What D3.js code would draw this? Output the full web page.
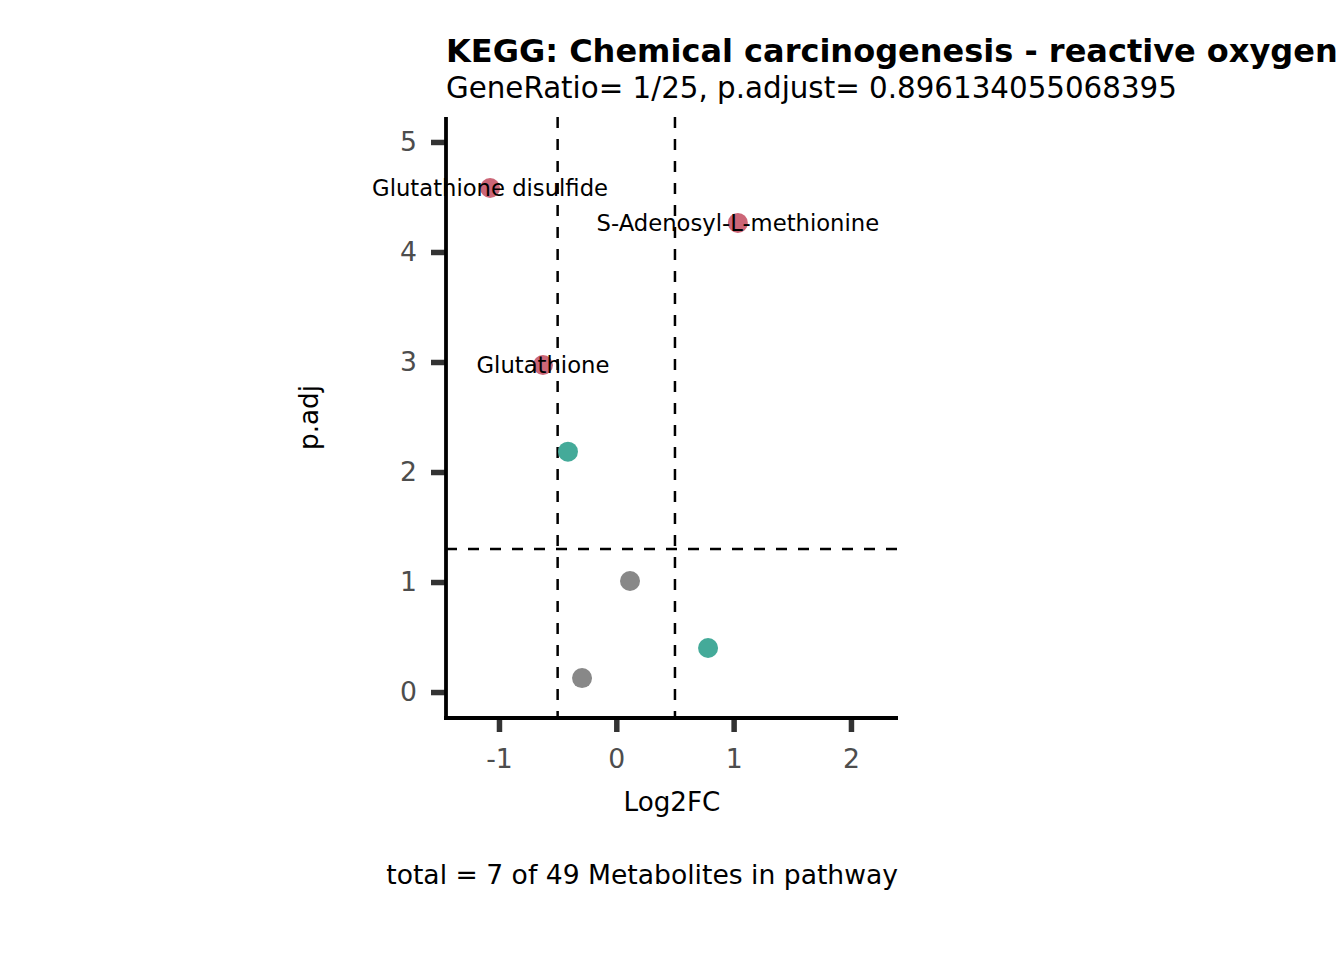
<!DOCTYPE html>
<html><head><meta charset="utf-8">
<script src="https://cdn.jsdelivr.net/npm/d3@7"></script>
<style>
html,body{margin:0;padding:0;background:#fff;}
svg{display:block;font-family:"DejaVu Sans",sans-serif;}
</style></head>
<body>
<svg id="chart" width="1344" height="960"></svg>
<script>
// ---- data ----
const metabolites = ["Glutathione disulfide","S-Adenosyl-L-methionine","Glutathione","","","",""];
const log2fc = [-1.076, 1.036, -0.625, -0.412, 0.117, 0.782, -0.292];
const padj = [4.582, 4.264, 2.973, 2.185, 1.009, 0.400, 0.127];
const groups = ["both","both","both","one","none","one","none"];
const groupColors = {both:"#CC6677", one:"#44AA99", none:"#888888"};
const xTicks = [-1, 0, 1, 2];
const yTicks = [0, 1, 2, 3, 4, 5];
const pThreshold = 1.301;
const fcThresholds = [-0.5, 0.5];
const titleText = "KEGG: Chemical carcinogenesis - reactive oxygen";
const subtitleText = "GeneRatio= 1/25, p.adjust= 0.896134055068395";
const captionText = "total = 7 of 49 Metabolites in pathway";
const xLabel = "Log2FC", yLabel = "p.adj";

// ---- layout ----
const panel = {left: 446, right: 898, top: 117, bottom: 718};
const svg = d3.select("#chart");
const x = d3.scaleLinear().domain([-1.4515, 2.401]).range([panel.left, panel.right]);
const y = d3.scaleLinear().domain([-0.236, 5.227]).range([panel.bottom, panel.top]);

// reference lines
const g = svg.append("g");
g.selectAll("line.v").data(fcThresholds).join("line")
  .attr("x1", d => x(d)).attr("x2", d => x(d))
  .attr("y1", panel.top).attr("y2", panel.bottom)
  .attr("stroke", "#000").attr("stroke-width", 2.5).attr("stroke-dasharray", "11,11");
g.append("line")
  .attr("x1", panel.left).attr("x2", panel.right)
  .attr("y1", y(pThreshold)).attr("y2", y(pThreshold))
  .attr("stroke", "#000").attr("stroke-width", 2.5).attr("stroke-dasharray", "11,11");

// points
const data = log2fc.map((v, i) => ({fc: v, p: padj[i], name: metabolites[i], grp: groups[i]}));
g.selectAll("circle").data(data).join("circle")
  .attr("cx", d => x(d.fc)).attr("cy", d => y(d.p)).attr("r", 10)
  .attr("fill", d => groupColors[d.grp]);

// labels
g.selectAll("text.lab").data(data.filter(d => d.name)).join("text")
  .attr("class", "lab")
  .attr("x", d => x(d.fc)).attr("y", d => y(d.p)).attr("dy", "0.35em")
  .attr("text-anchor", "middle").attr("font-size", 22.7).attr("fill", "#000")
  .text(d => d.name);

// axes
const xAxis = d3.axisBottom(x).tickValues(xTicks).tickSize(14).tickPadding(17).tickFormat(d3.format("d"));
const yAxis = d3.axisLeft(y).tickValues(yTicks).tickSize(15).tickPadding(14).tickFormat(d3.format("d"));
const gx = svg.append("g").attr("transform", `translate(0,${panel.bottom})`).call(xAxis);
const gy = svg.append("g").attr("transform", `translate(${panel.left},0)`).call(yAxis);
[gx, gy].forEach(a => {
  a.select(".domain").remove();
  a.selectAll(".tick line").attr("stroke", "#333333").attr("stroke-width", 5.5);
  a.selectAll(".tick text").attr("fill", "#4D4D4D").attr("font-size", 26.67)
    .attr("font-family", "DejaVu Sans");
});
gx.selectAll(".tick text").text(d => d < 0 ? "-" + Math.abs(d) : d);
// axis lines
svg.append("line").attr("x1", panel.left).attr("x2", panel.left)
  .attr("y1", panel.top).attr("y2", panel.bottom + 2).attr("stroke", "#000").attr("stroke-width", 3.8);
svg.append("line").attr("x1", panel.left - 2).attr("x2", panel.right)
  .attr("y1", panel.bottom).attr("y2", panel.bottom).attr("stroke", "#000").attr("stroke-width", 3.8);

// titles
svg.append("text").attr("x", 446).attr("y", 62).attr("font-size", 32).attr("font-weight", "bold")
  .attr("fill", "#000").text(titleText);
svg.append("text").attr("x", 446).attr("y", 98).attr("font-size", 29.33)
  .attr("fill", "#000").text(subtitleText);
svg.append("text").attr("x", (panel.left + panel.right) / 2).attr("y", 811)
  .attr("text-anchor", "middle").attr("font-size", 26.2).attr("fill", "#000").text(xLabel);
svg.append("text").attr("transform", `translate(318,${(panel.top + panel.bottom) / 2}) rotate(-90)`)
  .attr("text-anchor", "middle").attr("font-size", 26.2).attr("fill", "#000").text(yLabel);
svg.append("text").attr("x", panel.right).attr("y", 884)
  .attr("text-anchor", "end").attr("font-size", 26.6).attr("fill", "#000").text(captionText);
</script>
</body></html>
